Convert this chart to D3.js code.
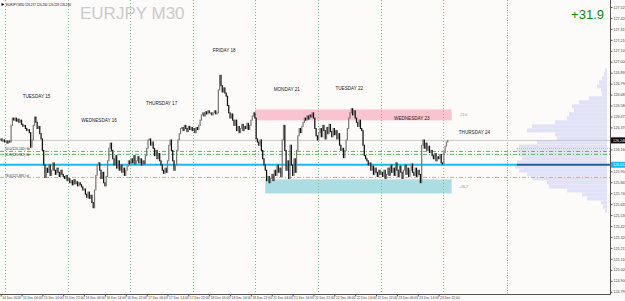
<!DOCTYPE html>
<html>
<head>
<meta charset="utf-8">
<script src="https://cdn.jsdelivr.net/npm/d3@7"></script>
<style>
  html, body { margin: 0; padding: 0; background: #fdfafa; }
  svg { display: block; font-family: "Liberation Sans", Arial, sans-serif; }
</style>
</head>
<body>
<div id="chart"></div>
<script>
// EURJPY M30 closes, 14 Dec 22:00 .. 24 Dec 01:30 (open = previous close)
var closes14 = [126.26, 126.24, 126.25, 126.23];
var closes15 = [126.24, 126.22, 126.24, 126.23, 126.39, 126.46, 126.44, 126.46, 126.43, 126.45, 126.42, 126.44,
    126.40, 126.38, 126.39, 126.36, 126.34, 126.35, 126.32, 126.18, 126.25, 126.39, 126.47, 126.42,
    126.36, 126.38, 126.31, 126.26, 126.15, 126.01, 125.89, 125.98, 125.94, 126.01, 125.91, 125.96,
    126.03, 125.96, 125.92, 125.98, 125.94, 125.90, 125.96, 125.92, 125.90, 125.88, 125.91, 125.86];
var closes16 = [125.88, 125.84, 125.86, 125.82, 125.87, 125.83, 125.85, 125.81, 125.84, 125.82, 125.80, 125.77,
    125.78, 125.73, 125.70, 125.75, 125.69, 125.72, 125.65, 125.60, 125.77, 125.91, 126.01, 126.03,
    125.96, 125.88, 125.94, 125.84, 125.81, 125.90, 126.05, 126.17, 126.22, 126.15, 126.07, 126.01,
    126.10, 125.98, 126.05, 125.96, 126.01, 125.94, 125.98, 125.91, 125.96, 126.00, 126.05, 126.02];
var closes17 = [126.07, 126.03, 126.10, 126.02, 126.05, 126.09, 126.03, 126.07, 126.01, 126.05, 126.02, 126.10,
    126.17, 126.25, 126.26, 126.20, 126.23, 126.17, 126.10, 126.15, 126.07, 126.12, 126.05, 126.01,
    125.96, 125.93, 125.98, 125.94, 126.05, 126.20, 126.25, 126.15, 126.05, 125.96, 126.01, 126.15,
    126.25, 126.31, 126.36, 126.37, 126.34, 126.39, 126.36, 126.33, 126.38, 126.35, 126.37, 126.34];
var closes18 = [126.36, 126.32, 126.37, 126.35, 126.39, 126.44, 126.49, 126.51, 126.48, 126.52, 126.50, 126.53,
    126.51, 126.51, 126.49, 126.51, 126.53, 126.50, 126.51, 126.73, 126.87, 126.77, 126.71, 126.75,
    126.70, 126.67, 126.58, 126.51, 126.46, 126.50, 126.44, 126.39, 126.44, 126.34, 126.38, 126.32,
    126.36, 126.40, 126.34, 126.38, 126.36, 126.41, 126.35, 126.39, 126.44, 126.48, 126.51, 126.46];
var closes21 = [126.26, 126.23, 126.20, 126.25, 126.15, 126.07, 126.01, 125.96, 125.86, 125.90, 125.84, 125.88,
    125.92, 125.86, 125.96, 125.91, 126.01, 125.94, 125.98, 125.90, 126.25, 126.39, 126.15, 125.96,
    126.05, 125.88, 126.20, 126.01, 125.91, 126.07, 125.94, 126.15, 126.29, 126.36, 126.32, 126.38,
    126.42, 126.46, 126.44, 126.48, 126.45, 126.49, 126.47, 126.51, 126.46, 126.36, 126.29, 126.25];
var closes22 = [126.32, 126.36, 126.28, 126.39, 126.34, 126.26, 126.37, 126.31, 126.40, 126.33, 126.28, 126.36,
    126.30, 126.34, 126.26, 126.31, 126.20, 126.15, 126.17, 126.08, 126.15, 126.25, 126.36, 126.46,
    126.51, 126.55, 126.49, 126.53, 126.46, 126.42, 126.38, 126.44, 126.36, 126.34, 126.20, 126.10,
    126.07, 126.05, 126.01, 126.03, 125.96, 126.00, 125.92, 125.98, 125.94, 125.90, 125.96, 125.92];
var closes23 = [125.94, 125.90, 125.96, 125.88, 125.92, 125.98, 125.91, 126.01, 125.94, 125.98, 125.91, 126.03,
    125.96, 125.90, 126.00, 125.94, 125.88, 125.96, 126.01, 125.92, 125.98, 125.90, 125.96, 126.02,
    125.94, 125.91, 125.98, 125.90, 125.96, 125.92, 125.84, 126.20, 126.25, 126.17, 126.22, 126.15,
    126.19, 126.13, 126.15, 126.10, 126.07, 126.12, 126.05, 126.09, 126.07, 126.11, 126.03, 126.02];
var closes24 = [126.13, 126.19, 126.23, 126.246];

var dayNames = ["TUESDAY 15", "WEDNESDAY 16", "THURSDAY 17", "FRIDAY 18",
    "MONDAY 21", "TUESDAY 22", "WEDNESDAY 23", "THURSDAY 24"];
var dayLabelPrices = [126.65, 126.42, 126.59, 127.09, 126.72, 126.73, 126.44, 126.31];

var timeLabels = ["14 Dec 2020", "15 Dec 06:00", "15 Dec 14:00", "15 Dec 22:00", "16 Dec 06:00", "16 Dec 14:00",
    "16 Dec 22:00", "17 Dec 06:00", "17 Dec 14:00", "17 Dec 22:00", "18 Dec 06:00", "18 Dec 14:00",
    "18 Dec 22:00", "21 Dec 06:00", "21 Dec 14:00", "21 Dec 22:00", "22 Dec 06:00", "22 Dec 14:00",
    "22 Dec 22:00", "23 Dec 06:00", "23 Dec 14:00", "23 Dec 22:00"];

var priceTicks = [127.525, 127.420, 127.315, 127.210, 127.105, 127.000, 126.895, 126.790, 126.685,
    126.580, 126.475, 126.370, 126.265, 126.160, 126.055, 125.950, 125.845, 125.740, 125.635,
    125.530, 125.425, 125.320, 125.215, 125.110, 125.005, 124.900, 124.795];

// zones: supply (pink) and demand (teal)
var zoneTop = [126.543, 125.872];
var zoneBottom = [126.438, 125.737];
var zoneFrom = [195, 203];
var zoneTo = [346, 346];
var zoneColors = ["#f9c3cf", "#abdde2"];
var zoneTexts = ["-23.6", "+36.7"];

// horizontal levels
var bidPrice = 126.246;
var pocPrice = 126.012;
var greenLevels = [126.140, 126.112];
var vahPrice = 126.169;
var orangeLevel = 125.891;

// volume profile
var profilePrices = [126.918, 126.880, 126.841, 126.803, 126.764, 126.726, 126.688, 126.649, 126.611,
    126.572, 126.534, 126.496, 126.457, 126.419, 126.380, 126.342, 126.304, 126.265, 126.227,
    126.188, 126.150, 126.112, 126.073, 126.035, 125.996, 125.958, 125.920, 125.881, 125.843,
    125.804, 125.766, 125.728, 125.689, 125.651, 125.612, 125.574];
var profileVolumes = [20, 30, 50, 80, 100, 60, 50, 180, 280, 350, 330, 380, 400, 520, 750, 800,
    520, 500, 700, 880, 900, 880, 850, 900, 920, 880, 800, 750, 600, 580, 400, 250, 200, 60, 40, 20];

var closes = [].concat(closes14, closes15, closes16, closes17, closes18, closes21, closes22, closes23, closes24);

var W = 625, H = 301;
var plotRight = 610, plotBottom = 294;

var svg = d3.select("#chart").append("svg")
    .attr("width", W)
    .attr("height", H);

svg.append("rect").attr("width", W).attr("height", H).attr("fill", "#fdfafa");

var x = d3.scaleLinear().domain([-0.5, 467.5]).range([0, plotRight]);
var y = d3.scaleLinear().domain([124.795, 127.525]).range([291.7, 7]);

// watermark
svg.append("text").attr("x", 80).attr("y", 18.5)
    .attr("font-size", 17).attr("fill", "#cbcbcb").text("EURJPY M30");

// zones
zoneTop.forEach(function (t, k) {
    svg.append("rect")
        .attr("x", x(zoneFrom[k])).attr("y", y(t))
        .attr("width", x(zoneTo[k]) - x(zoneFrom[k]))
        .attr("height", y(zoneBottom[k]) - y(t))
        .attr("fill", zoneColors[k]);
    svg.append("text").attr("x", 459).attr("y", y((t + zoneBottom[k]) / 2) + 1.2)
        .attr("font-size", 3.6).attr("fill", "#9a9a9a").text(zoneTexts[k]);
});

// volume profile
var vw = d3.scaleLinear().domain([0, 1000]).range([0, 100]);
svg.append("g").selectAll("rect").data(profilePrices).enter().append("rect")
    .attr("x", function (d, i) { return 607 - vw(profileVolumes[i]); })
    .attr("y", function (d) { return y(d + 0.0192); })
    .attr("width", function (d, i) { return vw(profileVolumes[i]); })
    .attr("height", function (d) { return y(d - 0.0192) - y(d + 0.0192); })
    .attr("fill", "#e1e1f7");

// day separators
var sep = svg.append("g");
for (var k = 0; k < 8; k++) {
    sep.append("line")
        .attr("x1", Math.round(x(3.5 + 48 * k)) + 0.5).attr("x2", Math.round(x(3.5 + 48 * k)) + 0.5)
        .attr("y1", 0).attr("y2", plotBottom)
        .attr("stroke", "#7cc47c").attr("stroke-width", 1).attr("stroke-dasharray", "1,2");
}
sep.append("line").attr("x1", 507.5).attr("x2", 507.5).attr("y1", 0).attr("y2", plotBottom)
    .attr("stroke", "#9a9a9a").attr("stroke-dasharray", "1,1.5");

// levels
svg.append("line").attr("x1", 0).attr("x2", plotRight).attr("y1", y(bidPrice)).attr("y2", y(bidPrice))
    .attr("stroke", "#c8c8c8").attr("stroke-width", 1);
greenLevels.forEach(function (p) {
    svg.append("line").attr("x1", 0).attr("x2", plotRight).attr("y1", y(p)).attr("y2", y(p))
        .attr("stroke", "#5cb85c").attr("stroke-width", 1).attr("stroke-dasharray", "4,2,1,2");
});
svg.append("line").attr("x1", 517).attr("x2", plotRight).attr("y1", y(vahPrice)).attr("y2", y(vahPrice))
    .attr("stroke", "#9fd69f").attr("stroke-width", 1).attr("stroke-dasharray", "1,1");
svg.append("line").attr("x1", 0).attr("x2", plotRight).attr("y1", y(orangeLevel)).attr("y2", y(orangeLevel))
    .attr("stroke", "#f0a080").attr("stroke-width", 1).attr("stroke-dasharray", "4,2,1,2");
svg.append("line").attr("x1", 0).attr("x2", 517).attr("y1", y(pocPrice)).attr("y2", y(pocPrice))
    .attr("stroke", "#12bdf5").attr("stroke-width", 2);
svg.append("line").attr("x1", 517).attr("x2", plotRight).attr("y1", y(pocPrice)).attr("y2", y(pocPrice))
    .attr("stroke", "#1f5f9a").attr("stroke-width", 2);

// level tags on the left
var tags = [[greenLevels[0] + 0.02, "50.0(126.140) fib"], [greenLevels[1] - 0.005, "61.8(126.112) fib"], [orangeLevel + 0.012, "78.6(125.891) sl"]];
tags.forEach(function (t) {
    svg.append("text").attr("x", 5).attr("y", y(t[0]) + 1)
        .attr("font-size", 3.3).attr("fill", "#333").text(t[1]);
});

// candles
var candles = svg.append("g");
candles.selectAll("rect").data(closes).enter().append("rect")
    .attr("x", function (d, i) { return x(i) - 0.6; })
    .attr("width", 1.25)
    .attr("y", function (d, i) {
        var o = i ? closes[i - 1] : d;
        return y(Math.max(o, d)) - 0.5;
    })
    .attr("height", function (d, i) {
        var o = i ? closes[i - 1] : d;
        return Math.max(1, Math.abs(y(o) - y(d))) + 1;
    })
    .attr("fill", function (d, i) {
        var o = i ? closes[i - 1] : d;
        return d >= o ? "#7a7a7a" : "#111";
    });

// day names
svg.append("g").selectAll("text").data(dayNames).enter().append("text")
    .attr("x", function (d, i) { return x(3.5 + 48 * i + 24); })
    .attr("y", function (d, i) { return y(dayLabelPrices[i]); })
    .attr("text-anchor", "middle").attr("font-size", 4.6).attr("fill", "#222")
    .text(function (d) { return d; });

// profit text
svg.append("text").attr("x", 604).attr("y", 18.5).attr("text-anchor", "end")
    .attr("font-size", 13).attr("fill", "#0a8a0a").text("+31.9");

// header
svg.append("path").attr("d", "M1.5,3 L4.5,4.5 L1.5,6 Z").attr("fill", "#000");
svg.append("text").attr("x", 6).attr("y", 5.8).attr("font-size", 3).attr("fill", "#111")
    .text("EURJPY,M30  126.237 126.260 126.228 126.246");

// axes
svg.append("line").attr("x1", plotRight + 0.5).attr("x2", plotRight + 0.5).attr("y1", 0).attr("y2", plotBottom + 0.5)
    .attr("stroke", "#555");
svg.append("line").attr("x1", 0).attr("x2", plotRight + 0.5).attr("y1", plotBottom + 0.5).attr("y2", plotBottom + 0.5)
    .attr("stroke", "#555");

// hide tick labels hidden behind the price tags
var shownTicks = priceTicks.filter(function (p) {
    return Math.abs(y(p) - y(bidPrice)) > 5 && Math.abs(y(p) - y(pocPrice)) > 5;
});
var yAxis = d3.axisRight(y).tickValues(shownTicks).tickSize(2).tickFormat(d3.format(".3f"));
var gy = svg.append("g").attr("transform", "translate(" + (plotRight + 0.5) + ",0)").call(yAxis);
gy.select(".domain").remove();
gy.selectAll("text").attr("font-size", 3.6).attr("fill", "#444").attr("x", 3);
gy.selectAll("line").attr("stroke", "#555");

var xAxis = d3.axisBottom(x).tickValues(d3.range(timeLabels.length).map(function (k) { return 16 * k; }))
    .tickSize(2).tickFormat(function (d, k) { return timeLabels[k]; });
var gx = svg.append("g").attr("transform", "translate(0," + (plotBottom + 0.5) + ")").call(xAxis);
gx.select(".domain").remove();
gx.selectAll("text").attr("font-size", 3.3).attr("fill", "#444")
    .attr("text-anchor", "start").attr("dx", 1).attr("y", 2.5);
gx.selectAll("line").attr("stroke", "#555");

// price tags on axis
svg.append("rect").attr("x", plotRight + 1).attr("y", y(bidPrice) - 3).attr("width", 14).attr("height", 6).attr("fill", "#000");
svg.append("text").attr("x", plotRight + 3).attr("y", y(bidPrice) + 1.3).attr("font-size", 3.6).attr("fill", "#fff").text(bidPrice.toFixed(3));
svg.append("rect").attr("x", plotRight + 1).attr("y", y(pocPrice) - 3).attr("width", 14).attr("height", 6).attr("fill", "#12bdf5");
svg.append("text").attr("x", plotRight + 3).attr("y", y(pocPrice) + 1.3).attr("font-size", 3.6).attr("fill", "#fff").text(pocPrice.toFixed(3));
</script>
</body>
</html>
